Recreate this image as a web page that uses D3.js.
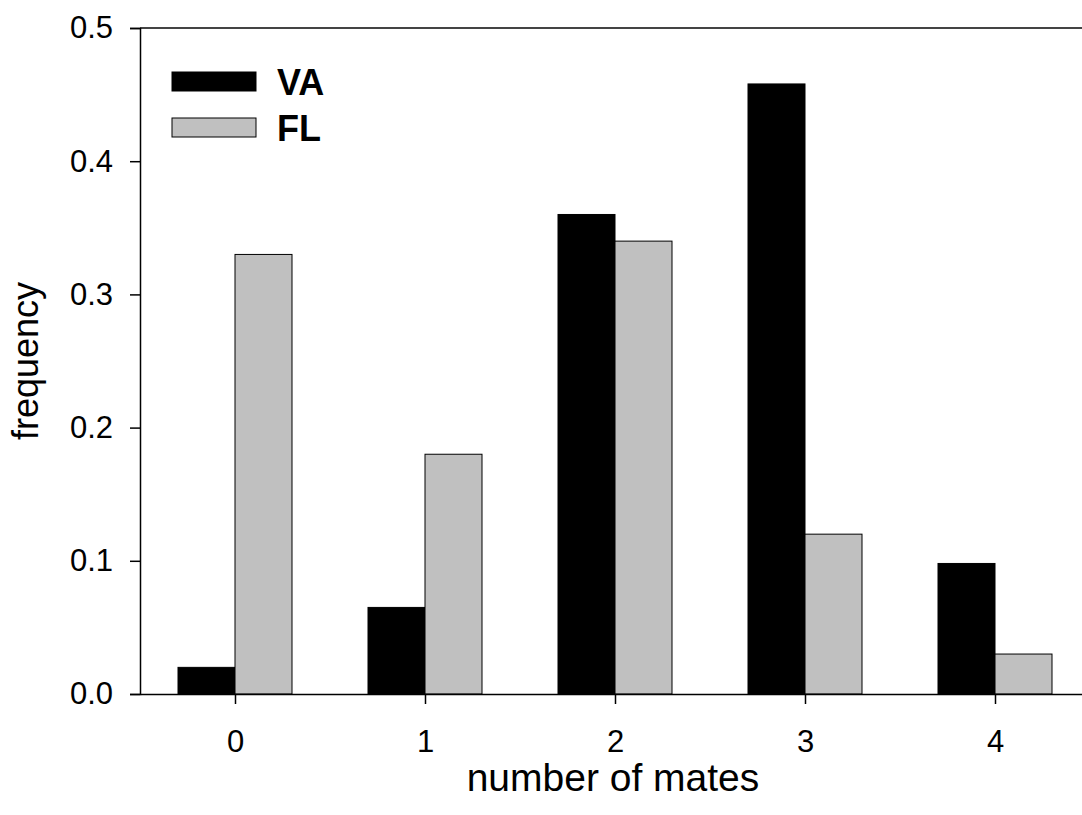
<!DOCTYPE html>
<html>
<head>
<meta charset="utf-8">
<script src="https://cdn.jsdelivr.net/npm/d3@7"></script>
<style>
  body { margin: 0; background: #fff; }
  text { font-family: "Liberation Sans", Arial, sans-serif; }
</style>
</head>
<body>
<div id="chart"></div>
<script>
// Data
const mates = [0, 1, 2, 3, 4];
const vaValues = [0.02, 0.065, 0.36, 0.458, 0.098];
const flValues = [0.33, 0.18, 0.34, 0.12, 0.03];
const yTicks = [0, 0.1, 0.2, 0.3, 0.4, 0.5];

const W = 1082, H = 815;
var margin = {top: 28, left: 140, bottom: 121};
var height = H - margin.top - margin.bottom;

const svg = d3.select('#chart').append('svg')
  .attr('width', W).attr('height', H);

// x runs a bit past the right edge of the picture
let xscale = d3.scaleLinear().domain([-0.5, 4.5]).range([margin.left, 1090]);
let yscale = d3.scaleLinear().domain([0, 0.5]).range([margin.top + height, margin.top]);
const barW = xscale(0.3) - xscale(0);

// bars
svg.append('g').selectAll('rect.va')
  .data(mates)
  .join('rect').classed('va', true)
  .attr('x', (d, i) => xscale(d - 0.3))
  .attr('y', (d, i) => yscale(vaValues[i]))
  .attr('width', barW)
  .attr('height', (d, i) => yscale(0) - yscale(vaValues[i]))
  .attr('fill', '#000')
  .attr('stroke', '#000')
  .attr('stroke-width', 1);

svg.append('g').selectAll('rect.fl')
  .data(mates)
  .join('rect').classed('fl', true)
  .attr('x', d => xscale(d))
  .attr('y', (d, i) => yscale(flValues[i]))
  .attr('width', barW)
  .attr('height', (d, i) => yscale(0) - yscale(flValues[i]))
  .attr('fill', '#c0c0c0')
  .attr('stroke', '#000')
  .attr('stroke-width', 1);

// top frame line
svg.append('line')
  .attr('x1', margin.left).attr('x2', W)
  .attr('y1', yscale(0.5)).attr('y2', yscale(0.5))
  .attr('stroke', '#444').attr('stroke-width', 2);

// axes
var yaxis = d3.axisLeft(yscale).tickValues(yTicks).tickFormat(d3.format('.1f'))
  .tickSize(10).tickPadding(17);
svg.append('g').attr('id', 'y-axis')
  .attr('transform', 'translate(' + margin.left + ',0)')
  .call(yaxis)
  .call(g => g.selectAll('text').style('font-size', '31px').attr('fill', '#000'))
  .call(g => g.selectAll('line, path').attr('stroke', '#000').attr('stroke-width', 1.5));

var xaxis = d3.axisBottom(xscale).tickValues(mates).tickFormat(d3.format('d'))
  .tickSize(10).tickPadding(26).tickSizeOuter(0);
svg.append('g').attr('id', 'x-axis')
  .attr('transform', 'translate(0,' + yscale(0) + ')')
  .call(xaxis)
  .call(g => g.selectAll('text').style('font-size', '31px').attr('fill', '#000'))
  .call(g => g.selectAll('line, path').attr('stroke', '#000').attr('stroke-width', 1.5));

// titles
svg.append('text')
  .attr('x', 613).attr('y', 791)
  .attr('text-anchor', 'middle')
  .style('font-size', '39px')
  .text('number of mates');

svg.append('text')
  .attr('transform', 'translate(38,361) rotate(-90)')
  .attr('text-anchor', 'middle')
  .style('font-size', '36px')
  .text('frequency');

// legend
const legend = [
  {name: 'VA', fill: '#000'},
  {name: 'FL', fill: '#c0c0c0'}
];
const lg = svg.append('g').selectAll('g')
  .data(legend)
  .join('g')
  .attr('transform', (d, i) => 'translate(172,' + (72 + i * 46) + ')');
lg.append('rect')
  .attr('width', 84).attr('height', 19)
  .attr('fill', d => d.fill)
  .attr('stroke', '#000').attr('stroke-width', 1);
lg.append('text')
  .attr('x', 105).attr('y', 23)
  .style('font-size', '36px').style('font-weight', 'bold')
  .text(d => d.name);
</script>
</body>
</html>
